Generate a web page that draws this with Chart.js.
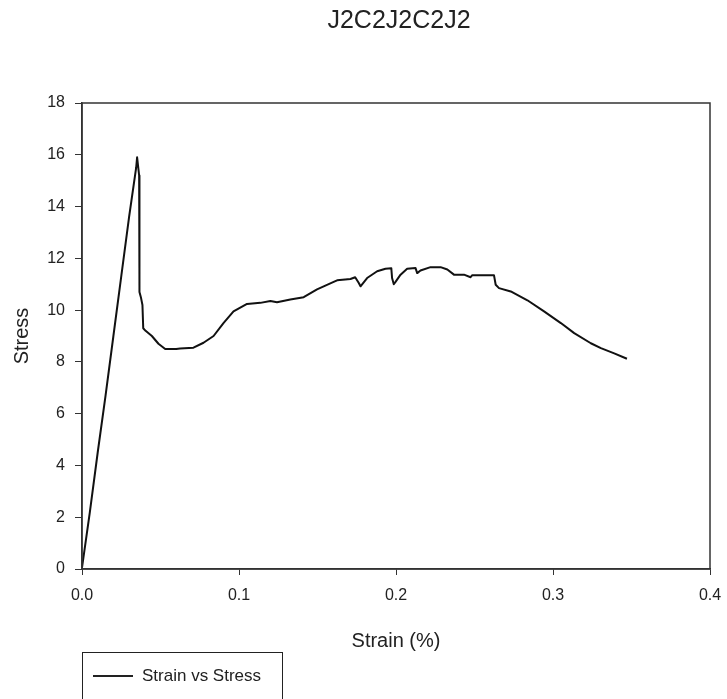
<!DOCTYPE html>
<html>
<head>
<meta charset="utf-8">
<script src="https://cdn.jsdelivr.net/npm/chart.js@4"></script>
<style>
  html, body { margin: 0; padding: 0; background: #fff; }
  #wrap { width: 727px; height: 699px; }
</style>
</head>
<body>
<div id="wrap"><canvas id="chart" width="727" height="699"></canvas></div>
<script>
const chartTitle = 'J2C2J2C2J2';
const seriesLabel = 'Strain vs Stress';
const xTitle = 'Strain (%)';
const yTitle = 'Stress';

// values
const strainPct = [0, 0.005, 0.01, 0.015, 0.02, 0.025, 0.03, 0.0345, 0.0351, 0.0364, 0.0366, 0.0375,
  0.0385, 0.039, 0.0405, 0.0445, 0.0487, 0.053, 0.06, 0.0625, 0.071, 0.0774, 0.0838, 0.0901,
  0.0965, 0.1051, 0.1136, 0.12, 0.1242, 0.1327, 0.1412, 0.1497, 0.1603, 0.1625, 0.171, 0.174,
  0.1763, 0.1774, 0.1816, 0.188, 0.1933, 0.197, 0.1975, 0.1986, 0.1997, 0.2029, 0.2071, 0.2124,
  0.2135, 0.2156, 0.222, 0.2284, 0.2327, 0.2369, 0.2433, 0.2475, 0.2486, 0.2624, 0.2635, 0.2656,
  0.2731, 0.2837, 0.2943, 0.305, 0.3135, 0.3241, 0.3305, 0.339, 0.3471];
const stress = [0.05, 2.2, 4.5, 6.7, 9.0, 11.3, 13.6, 15.5, 15.9, 15.2, 10.7, 10.5,
  10.2, 9.3, 9.2, 9.0, 8.7, 8.5, 8.5, 8.52, 8.55, 8.74, 9.0, 9.5,
  9.95, 10.24, 10.28, 10.35, 10.3, 10.41, 10.5, 10.8, 11.09, 11.15, 11.2, 11.27,
  11.05, 10.92, 11.24, 11.5, 11.6, 11.62, 11.24, 11.0, 11.09, 11.37, 11.6, 11.63,
  11.43, 11.53, 11.66, 11.66, 11.57, 11.37, 11.37, 11.27, 11.35, 11.35, 10.98, 10.85,
  10.72, 10.38, 9.95, 9.5, 9.11, 8.72, 8.53, 8.33, 8.12];

const xTicks = [0, 0.1, 0.2, 0.3, 0.4];
const yTicks = [0, 2, 4, 6, 8, 10, 12, 14, 16, 18];

const ink = '#222';
const fontFamily = 'Arial, "Liberation Sans", sans-serif';

// frame, title and boxed legend
const decorations = {
  id: 'decorations',
  afterDraw(chart) {
    const { ctx, chartArea: a } = chart;
    ctx.save();
    ctx.strokeStyle = '#333';
    ctx.lineWidth = 1.5;
    ctx.strokeRect(a.left, a.top, a.right - a.left, a.bottom - a.top);

    ctx.fillStyle = ink;
    ctx.font = '25px ' + fontFamily;
    ctx.textAlign = 'center';
    ctx.textBaseline = 'middle';
    ctx.fillText(chartTitle, (a.left + a.right) / 2 + 3, 21);

    // legend
    ctx.strokeStyle = '#222';
    ctx.lineWidth = 1;
    ctx.strokeRect(82.5, 652.5, 200, 60);
    ctx.lineWidth = 2;
    ctx.beginPath();
    ctx.moveTo(93, 676);
    ctx.lineTo(133, 676);
    ctx.stroke();
    ctx.font = '17px ' + fontFamily;
    ctx.textAlign = 'left';
    ctx.fillText(chart.data.datasets[0].label, 142, 676);
    ctx.restore();
  }
};

new Chart(document.getElementById('chart'), {
  type: 'line',
  data: {
    datasets: [{
      label: seriesLabel,
      data: strainPct.map((x, i) => ({ x, y: stress[i] })),
      borderColor: '#111',
      borderWidth: 2,
      borderJoinStyle: 'round',
      pointRadius: 0,
      tension: 0,
      fill: false
    }]
  },
  options: {
    responsive: false,
    animation: false,
    layout: { padding: { top: 103, right: 17, left: 0, bottom: 0 } },
    plugins: {
      legend: { display: false },
      title: { display: false },
      tooltip: { enabled: false }
    },
    scales: {
      x: {
        type: 'linear',
        min: 0,
        max: 0.4,
        afterFit: s => { s.height = 130; s.paddingLeft = 0; s.paddingRight = 0; },
        afterBuildTicks: s => { s.ticks = xTicks.map(v => ({ value: v })); },
        ticks: {
          color: ink,
          font: { size: 16, family: fontFamily },
          padding: 11,
          maxRotation: 0,
          callback: v => v.toFixed(1)
        },
        grid: { drawOnChartArea: false, drawTicks: true, tickLength: 6, color: '#333' },
        border: { display: true, color: '#333', width: 1.5 },
        title: {
          display: true,
          text: xTitle,
          color: ink,
          font: { size: 20, family: fontFamily },
          padding: { top: 0, bottom: 46 }
        }
      },
      y: {
        min: 0,
        max: 18,
        afterFit: s => { s.width = 82; s.paddingTop = 0; s.paddingBottom = 0; },
        afterBuildTicks: s => { s.ticks = yTicks.map(v => ({ value: v })); },
        ticks: {
          color: ink,
          font: { size: 16, family: fontFamily },
          padding: 10
        },
        grid: { drawOnChartArea: false, drawTicks: true, tickLength: 7, color: '#333' },
        border: { display: true, color: '#333', width: 1.5 },
        title: {
          display: true,
          text: yTitle,
          color: ink,
          font: { size: 20, family: fontFamily },
          padding: { top: 10, bottom: 0 }
        }
      }
    }
  },
  plugins: [decorations]
});
</script>
</body>
</html>
